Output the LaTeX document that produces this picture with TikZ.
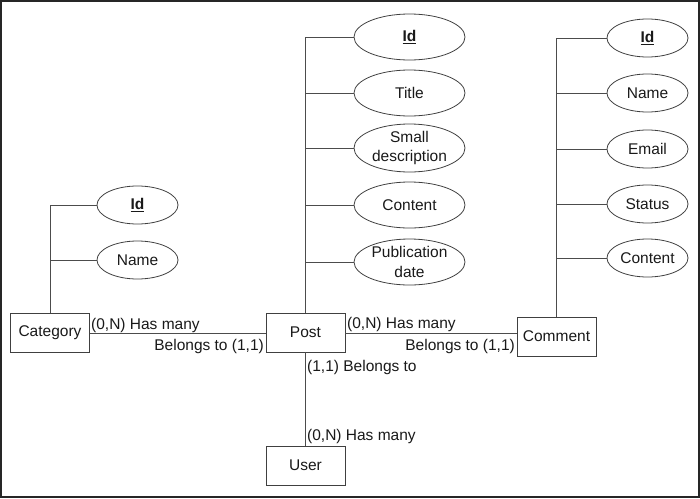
\documentclass[tikz,border=0pt]{standalone}
\usepackage{fontspec}
\setmainfont{Liberation Sans}
\usetikzlibrary{shapes.geometric}
\begin{document}
\begin{tikzpicture}[x=1pt,y=-1pt,
  every node/.style={font=\fontsize{15.5}{19.5}\selectfont, text=black!90},
  entity/.style={draw=black!75, line width=0.8pt, minimum width=79pt,
    minimum height=39pt, inner sep=0pt},
  attr/.style={ellipse, draw=black!75, line width=0.8pt, inner sep=0pt,
    align=center},
  postattr/.style={attr, minimum width=111pt, minimum height=46pt},
  smallattr/.style={attr, minimum width=81pt, minimum height=38pt},
  link/.style={draw=black!70, line width=0.8pt},
  card/.style={inner sep=0pt}]
\useasboundingbox (0,0) rectangle (700,498);
\draw[line width=2.4pt, black!85] (1.2,1.2) rectangle (698.8,496.8);

% entities
\node[entity] (cat)  at (50,333)     {Category};
\node[entity] (post) at (305.5,332.5) {Post};
\node[entity] (com)  at (556.5,336.5) {Comment};
\node[entity] (user) at (305.5,465.5) {User};

% category attributes
\node[smallattr] (cid)   at (137.5,205) {\textbf{\underline{Id}}};
\node[smallattr] (cname) at (137.5,260) {Name};

% post attributes
\node[postattr] (pid)    at (409.5,37)  {\textbf{\underline{Id}}};
\node[postattr] (ptitle) at (409.5,93)  {Title};
\node[postattr] (pdesc)  at (409.5,148) {Small\\description};
\node[postattr] (pcont)  at (409.5,205) {Content};
\node[postattr] (pdate)  at (409.5,262) {Publication\\date};

% comment attributes
\node[smallattr] (cmid)    at (647.5,38)  {\textbf{\underline{Id}}};
\node[smallattr] (cmname)  at (647.5,93)  {Name};
\node[smallattr] (cmemail) at (647.5,149) {Email};
\node[smallattr] (cmstat)  at (647.5,204) {Status};
\node[smallattr] (cmcont)  at (647.5,258) {Content};

% attribute trunks
\draw[link] (cat.north) |- (cid.west);
\draw[link] (cat.north |- cname.west) -- (cname.west);

\draw[link] (post.north) |- (pid.west);
\foreach \a in {ptitle,pdesc,pcont,pdate}
  \draw[link] (post.north |- \a.west) -- (\a.west);

\draw[link] (com.north) |- (cmid.west);
\foreach \a in {cmname,cmemail,cmstat,cmcont}
  \draw[link] (com.north |- \a.west) -- (\a.west);

% relationships
\draw[link] (cat.east) -- (cat.east -| post.west);
\draw[link] (post.east |- 0,333) -- (com.west |- 0,333);
\draw[link] (post.south) -- (user.north);

% cardinalities
\node[card, anchor=base west] (c1) at (91,329)  {(0,N) Has many};
\node[card, anchor=base east] (c2) at (264,350) {Belongs to (1,1)};
\node[card, anchor=base west] (c3) at (347,328) {(0,N) Has many};
\node[card, anchor=base east] (c4) at (515,350) {Belongs to (1,1)};
\node[card, anchor=base west] (c5) at (307,371) {(1,1) Belongs to};
\node[card, anchor=base west] (c6) at (307,440) {(0,N) Has many};
\end{tikzpicture}
\end{document}
